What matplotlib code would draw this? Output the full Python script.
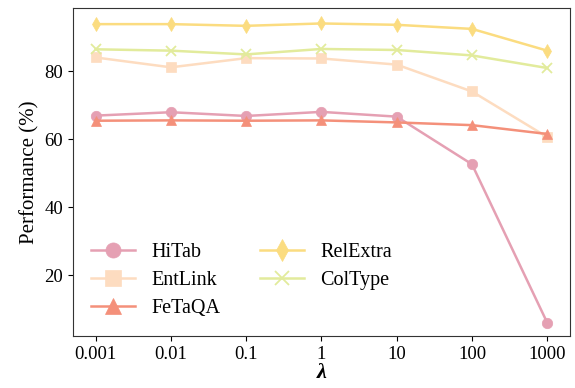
import matplotlib
matplotlib.use("Agg")
import matplotlib.pyplot as plt

plt.rcParams['font.family'] = ['Liberation Serif', 'DejaVu Serif']
plt.rcParams['mathtext.fontset'] = 'stix'

x_labels = ["0.001", "0.01", "0.1", "1", "10", "100", "1000"]
hitab = [66.9, 67.9, 66.8, 68.0, 66.6, 52.6, 6.0]
entlink = [84.0, 81.1, 83.8, 83.7, 81.9, 74.0, 60.6]
fetaqa = [65.4, 65.5, 65.4, 65.5, 64.9, 64.1, 61.5]
relextra = [93.8, 93.8, 93.3, 94.0, 93.6, 92.4, 86.0]
coltype = [86.4, 86.0, 84.9, 86.5, 86.2, 84.6, 80.9]

series = [
    ("HiTab", hitab, "#e5a0b3", "o"),
    ("EntLink", entlink, "#fddcc0", "s"),
    ("FeTaQA", fetaqa, "#f4907a", "^"),
    ("RelExtra", relextra, "#fbdc80", "d"),
    ("ColType", coltype, "#e2eb9c", "x"),
]

fig, ax = plt.subplots(figsize=(5.75, 3.88), dpi=100)
xs = list(range(len(x_labels)))
for name, vals, color, m in series:
    ms = 7.5 if m != "x" else 7
    ax.plot(xs, vals, color=color, marker=m, markersize=ms, linewidth=1.8,
            markeredgewidth=1.3 if m == "x" else 0.5, label=name)

ax.set_xticks(xs)
ax.set_xticklabels(x_labels)
ax.set_xlim(-0.3, 6.3)
ax.set_ylim(2.1, 98.5)
ax.set_yticks([20, 40, 60, 80])
ax.tick_params(labelsize=13.5)
ax.set_ylabel("Performance (%)", fontsize=15)
ax.set_xlabel("λ", fontsize=16, fontstyle="italic", fontweight="bold", labelpad=0)
for s in ax.spines.values():
    s.set_color("#333333")
ax.legend(ncol=2, loc="lower left", bbox_to_anchor=(0.0, 0.0), frameon=False,
          fontsize=14.5, handlelength=2.2, columnspacing=1.95, labelspacing=0.45,
          markerscale=1.45)

fig.subplots_adjust(left=0.127, right=0.991, top=0.979, bottom=0.134)
fig.savefig("out.png", dpi=100)
